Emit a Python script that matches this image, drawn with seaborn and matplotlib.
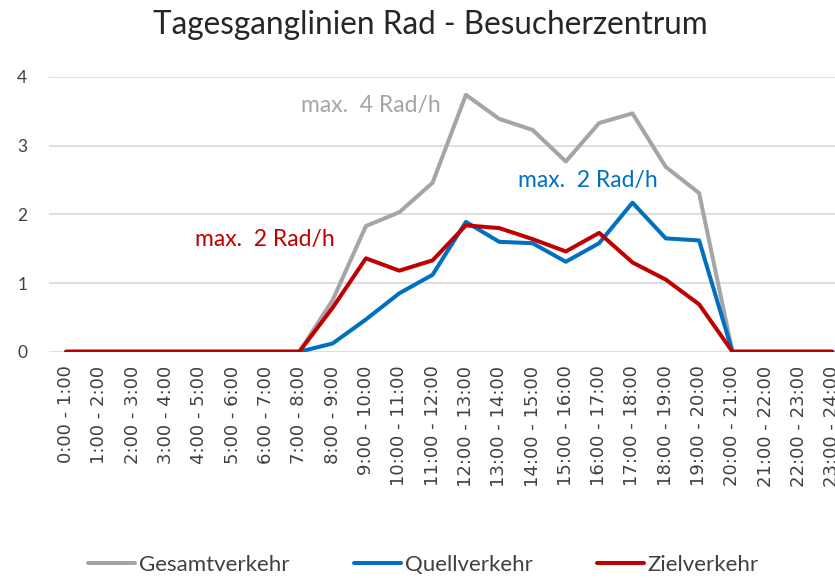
import matplotlib
matplotlib.use("Agg")
import matplotlib.pyplot as plt
import seaborn as sns
import pandas as pd

hours = [f"{h}:00 - {h+1}:00" for h in range(24)]
gesamt = [0, 0, 0, 0, 0, 0, 0, 0, 0.75, 1.83, 2.03, 2.46, 3.74, 3.39, 3.23, 2.77,
          3.33, 3.47, 2.69, 2.31, 0, 0, 0, 0]
quell = [0, 0, 0, 0, 0, 0, 0, 0, 0.12, 0.47, 0.85, 1.12, 1.89, 1.60, 1.58, 1.31,
         1.58, 2.17, 1.65, 1.62, 0, 0, 0, 0]
ziel = [0, 0, 0, 0, 0, 0, 0, 0, 0.64, 1.36, 1.18, 1.33, 1.84, 1.80, 1.64, 1.46,
        1.73, 1.30, 1.05, 0.69, 0, 0, 0, 0]
series_names = ["Gesamtverkehr", "Quellverkehr", "Zielverkehr"]
colors = ["#A5A5A5", "#0070C0", "#C00000"]
title = "Tagesganglinien Rad - Besucherzentrum"
annotations = [("max.  4 Rad/h", 7.06, 3.58), ("max.  2 Rad/h", 13.57, 2.50), ("max.  2 Rad/h", 3.87, 1.63)]

df = pd.DataFrame({
    "Stunde": hours * 3,
    "Wert": gesamt + quell + ziel,
    "Reihe": sum([[n] * 24 for n in series_names], []),
})

sns.set_theme(style="white")
plt.rcParams["font.family"] = ["Lato", "DejaVu Sans"]

fig = plt.figure(figsize=(8.35, 5.78), dpi=100)
ax = fig.add_axes([0.0592, 0.3915, 0.9576, 0.4753])

sns.lineplot(data=df, x="Stunde", y="Wert", hue="Reihe", hue_order=series_names,
             palette=colors, linewidth=2.9, sort=False, ax=ax, legend=True)

ax.set_xlim(-0.5, 23.5)
ax.set_ylim(0, 4)
ax.set_yticks([0, 1, 2, 3, 4])
ax.grid(axis="y", color="#D9D9D9", linewidth=1.2)
ax.set_axisbelow(True)
for s in ax.spines.values():
    s.set_visible(False)
ax.set_xlabel("")
ax.set_ylabel("")
ax.tick_params(axis="x", labelrotation=90, colors="#404040", length=0, pad=10)
ax.tick_params(axis="y", labelsize=12.5, colors="#404040", length=0, pad=16)
for lab in ax.get_xticklabels():
    lab.set_verticalalignment("top")
    lab.set_fontfamily("DejaVu Sans")
    lab.set_fontsize(13)

for (txt, x, y), c in zip(annotations, colors):
    ax.text(x, y, txt, color=c, fontsize=16.5, ha="left", va="center")

handles, labels = ax.get_legend_handles_labels()
ax.get_legend().remove()
leg = fig.legend(handles, labels, loc="center left", bbox_to_anchor=(0.1054, 0.0225),
                 ncol=3, frameon=False, fontsize=16, handlelength=2.12,
                 handletextpad=0.18, columnspacing=2.88, borderaxespad=0, borderpad=0)
for t in leg.get_texts():
    t.set_color("#404040")

fig.text(0.515, 0.957, title, ha="center", va="center", fontsize=22.7, color="#262626")

fig.savefig("out.png", dpi=100)
